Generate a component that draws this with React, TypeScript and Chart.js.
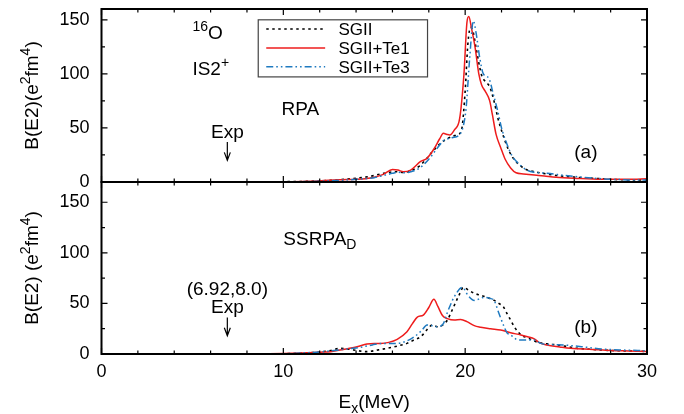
import React, { useEffect, useRef } from "react";
import { Chart, registerables } from "chart.js";
Chart.register(...registerables);

// ---------- data ----------
const seriesNames = ["SGII", "SGII+Te1", "SGII+Te3"];
const xMajorTicks = [0, 10, 20, 30];
const yMajorTicks = [0, 50, 100, 150];
const xMinorStep = 2;
const yMinorStep = 25;

// (a) RPA
const rpaSgiiX = [0, 10, 12, 13, 14, 14.5, 15, 15.5, 16.2, 16.6, 17, 17.5, 17.9, 18.25, 18.6, 18.9, 19.27, 19.6, 19.8, 20.0, 20.15, 20.3, 20.45, 20.6, 20.9, 21.1, 21.35, 21.6, 21.8, 22.05, 22.35, 22.6, 22.9, 23.3, 23.8, 24.3, 25, 26, 27, 28, 29, 30];
const rpaSgiiY = [0, 0.3, 1, 2, 3.5, 4.5, 6, 8, 9.5, 8.8, 10.5, 15, 22, 29, 35, 39, 42, 44, 48, 84, 128, 143, 138, 124, 99, 93, 88, 74, 59, 45, 31, 23, 17, 12, 9.5, 8, 6, 4.5, 3.5, 2.5, 2, 2];
const rpaTe1X = [0, 10, 12, 13, 14, 14.5, 15, 15.5, 16, 16.3, 16.6, 17, 17.55, 17.9, 18.3, 18.6, 18.8, 19.0, 19.15, 19.4, 19.7, 19.93, 20.1, 20.2, 20.35, 20.55, 20.75, 20.9, 21.1, 21.35, 21.5, 21.7, 21.95, 22.2, 22.5, 22.8, 23.2, 23.8, 24.35, 25, 26, 27.5, 29, 30];
const rpaTe1Y = [0, 0.3, 1, 2, 2.5, 3, 4.3, 7, 11.5, 11, 9.5, 11, 19, 22, 31, 40, 45, 44, 43.5, 48, 59, 99, 148, 153, 142, 124, 100, 90, 84, 75, 62, 44, 32, 21, 13, 8.5, 7.5, 6.5, 5.6, 4.5, 3.5, 2.5, 2.5, 3];
const rpaTe3X = [0, 10, 12, 13, 14, 15, 15.5, 16, 16.3, 16.7, 17, 17.5, 18, 18.45, 18.8, 19.27, 19.7, 19.9, 20.05, 20.25, 20.45, 20.6, 20.8, 21.0, 21.3, 21.55, 21.8, 22.0, 22.3, 22.55, 23.0, 23.4, 23.8, 24.5, 25.5, 26.5, 27.5, 28.5, 29.3, 30];
const rpaTe3Y = [0, 0.2, 0.7, 1.5, 2.5, 4, 6, 8, 9, 8.5, 9.5, 13, 21, 31, 38, 41, 44, 52, 68, 115, 149, 138, 115, 100, 96, 81, 65, 50, 35, 25, 16, 11, 9, 8, 6, 4.3, 3, 2.2, 1.8, 1.8];

// (b) SSRPA_D
const ssSgiiX = [0, 10, 11, 12, 12.6, 13.14, 13.5, 13.86, 14.2, 14.6, 15.2, 15.7, 16.3, 16.8, 17.2, 17.55, 17.9, 18.19, 18.47, 18.8, 19.02, 19.3, 19.66, 19.9, 20.2, 20.5, 20.85, 21.2, 21.6, 21.85, 22.1, 22.3, 22.5, 22.7, 22.9, 23.1, 23.43, 24, 24.5, 25.1, 26.2, 27, 28, 29, 30];
const ssSgiiY = [0, 0.3, 0.8, 2, 3.5, 5.6, 5, 4, 3, 2.3, 4, 5.6, 8, 10.5, 14, 17, 24, 28.6, 27, 29, 33.5, 44, 58, 65.8, 63, 60, 58, 56, 53, 50, 46.7, 40, 33.5, 27, 22, 18.5, 16, 11.5, 10, 8.9, 5.6, 4.5, 3.5, 3, 2.5];
const ssTe1X = [0, 8, 10, 11, 12, 12.6, 13.3, 14.06, 14.6, 15.0, 15.35, 15.8, 16.26, 16.8, 17.1, 17.37, 17.7, 18.0, 18.28, 18.5, 18.75, 19.02, 19.4, 19.75, 20.1, 20.5, 20.85, 21.4, 21.95, 22.5, 23.06, 23.43, 23.8, 24.1, 24.5, 25.2, 25.8, 27, 28, 29, 30];
const ssTe1Y = [0, 0.2, 0.5, 1, 1.8, 2.3, 4.5, 7.2, 9.9, 10.5, 10.5, 11.5, 14.5, 22, 30, 36.5, 38.5, 46, 54, 47, 38, 35, 33.5, 34, 32, 28, 26.5, 25, 23.7, 21, 18.8, 17, 15, 11, 8.9, 7, 5.6, 4.5, 3.5, 3, 2.5];
const ssTe3X = [0, 10, 11, 12, 12.8, 13.5, 14.0, 14.4, 14.9, 15.35, 15.8, 16.26, 16.8, 17.2, 17.6, 17.9, 18.2, 18.47, 18.8, 19.0, 19.2, 19.4, 19.85, 20.15, 20.5, 21.04, 21.35, 21.6, 21.86, 22.14, 22.3, 22.5, 22.9, 23.5, 23.8, 24.16, 24.5, 25.4, 26.4, 27.5, 28.5, 29.5, 30];
const ssTe3Y = [0, 0.3, 1, 2, 3.5, 5, 6, 7.2, 9, 10.5, 10.5, 10.5, 13, 17, 23, 28.6, 28, 27, 30, 40, 49, 56.6, 65.8, 58, 53, 56, 55, 52.6, 40, 27, 21, 18.8, 14, 13.8, 13.8, 10.5, 9.5, 8.9, 7.2, 5, 4, 3.5, 3];

// experimental point
const expEnergy = 6.92;
const expLabel = "(6.92,8.0)";

// ---------- styles ----------
const FONT = '"Liberation Sans", Arial, Helvetica, sans-serif';
const W = 684;
const H = 414;
const seriesStyles = [
  { color: "#000000", dash: [2.5, 3.5], width: 1.6 },
  { color: "#ee1c1c", dash: [] as number[], width: 1.5 },
  { color: "#1f7ac0", dash: [7, 3, 1.6, 3, 1.6, 3], width: 1.5 },
];

type Seg = { t: string; s?: "sup" | "sub" };

function drawRich(ctx: CanvasRenderingContext2D, segs: Seg[], x: number, y: number, size: number, align: "left" | "center") {
  const small = Math.round(size * 0.72);
  const widths = segs.map((sg) => {
    ctx.font = `${sg.s ? small : size}px ${FONT}`;
    return ctx.measureText(sg.t).width;
  });
  const total = widths.reduce((a, b) => a + b, 0);
  let cx = align === "center" ? x - total / 2 : x;
  ctx.textAlign = "left";
  ctx.textBaseline = "alphabetic";
  segs.forEach((sg, i) => {
    ctx.font = `${sg.s ? small : size}px ${FONT}`;
    const dy = sg.s === "sup" ? -size * 0.42 : sg.s === "sub" ? size * 0.25 : 0;
    ctx.fillText(sg.t, cx, y + dy);
    cx += widths[i];
  });
}

type Panel = {
  key: string;
  top: number;
  bottom: number;
  yMax: number;
  showX: boolean;
  xs: number[][];
  ys: number[][];
  texts: { segs: Seg[]; x: number; y: number; align: "left" | "center"; size: number }[];
  arrow: { x: number; y1: number; y2: number };
  yTitle: Seg[];
  legend: boolean;
};

const panels: Panel[] = [
  {
    key: "a",
    top: 9,
    bottom: 182,
    yMax: 160,
    showX: false,
    xs: [rpaSgiiX, rpaTe1X, rpaTe3X],
    ys: [rpaSgiiY, rpaTe1Y, rpaTe3Y],
    texts: [
      { segs: [{ t: "16", s: "sup" }, { t: "O" }], x: 5.0, y: 132, align: "left", size: 19 },
      { segs: [{ t: "IS2" }, { t: "+", s: "sup" }], x: 5.0, y: 99, align: "left", size: 19 },
      { segs: [{ t: "RPA" }], x: 9.9, y: 62, align: "left", size: 19 },
      { segs: [{ t: "Exp" }], x: expEnergy, y: 41, align: "center", size: 19 },
      { segs: [{ t: "(a)" }], x: 26.0, y: 22, align: "left", size: 19 },
    ],
    arrow: { x: expEnergy, y1: 37, y2: 20 },
    yTitle: [{ t: "B(E2)(e" }, { t: "2", s: "sup" }, { t: "fm" }, { t: "4", s: "sup" }, { t: ")" }],
    legend: true,
  },
  {
    key: "b",
    top: 182,
    bottom: 354,
    yMax: 170,
    showX: true,
    xs: [ssSgiiX, ssTe1X, ssTe3X],
    ys: [ssSgiiY, ssTe1Y, ssTe3Y],
    texts: [
      { segs: [{ t: "SSRPA" }, { t: "D", s: "sub" }], x: 10.0, y: 108, align: "left", size: 19 },
      { segs: [{ t: expLabel }], x: expEnergy, y: 58, align: "center", size: 19 },
      { segs: [{ t: "Exp" }], x: expEnergy, y: 41, align: "center", size: 19 },
      { segs: [{ t: "(b)" }], x: 26.0, y: 21, align: "left", size: 19 },
    ],
    arrow: { x: expEnergy, y1: 36, y2: 18 },
    yTitle: [{ t: "B(E2) (e" }, { t: "2", s: "sup" }, { t: "fm" }, { t: "4", s: "sup" }, { t: ")" }],
    legend: false,
  },
];

function makeDecor(panel: Panel) {
  return {
    id: "decor_" + panel.key,
    afterDatasetsDraw(chart: any) {
      const ctx: CanvasRenderingContext2D = chart.ctx;
      const { left, right, top, bottom } = chart.chartArea;
      const xs = chart.scales.x;
      const ys = chart.scales.y;
      ctx.save();
      ctx.fillStyle = "#000";
      ctx.strokeStyle = "#000";
      // ticks
      ctx.lineWidth = 1.2;
      for (let v = 0; v <= 30 + 1e-9; v += xMinorStep) {
        const px = xs.getPixelForValue(v);
        const len = xMajorTicks.includes(v) ? 6 : 3.5;
        ctx.beginPath();
        ctx.moveTo(px, bottom);
        ctx.lineTo(px, bottom - len);
        ctx.moveTo(px, top);
        ctx.lineTo(px, top + len);
        ctx.stroke();
      }
      for (let v = 0; v <= panel.yMax + 1e-9; v += yMinorStep) {
        const py = ys.getPixelForValue(v);
        const len = yMajorTicks.includes(v) ? 6 : 3.5;
        ctx.beginPath();
        ctx.moveTo(left, py);
        ctx.lineTo(left + len, py);
        ctx.moveTo(right, py);
        ctx.lineTo(right - len, py);
        ctx.stroke();
      }
      // frame
      ctx.lineWidth = 2;
      ctx.strokeRect(left, top, right - left, bottom - top);

      // texts
      panel.texts.forEach((tx) => {
        drawRich(ctx, tx.segs, xs.getPixelForValue(tx.x), ys.getPixelForValue(tx.y), tx.size, tx.align);
      });
      // arrow
      const ax = xs.getPixelForValue(panel.arrow.x);
      const ay1 = ys.getPixelForValue(panel.arrow.y1);
      const ay2 = ys.getPixelForValue(panel.arrow.y2);
      ctx.lineWidth = 1.2;
      ctx.beginPath();
      ctx.moveTo(ax, ay1);
      ctx.lineTo(ax, ay2);
      ctx.moveTo(ax - 3, ay2 - 8);
      ctx.lineTo(ax, ay2);
      ctx.lineTo(ax + 3, ay2 - 8);
      ctx.stroke();

      // y title
      ctx.save();
      ctx.translate(left - 64, (top + bottom) / 2);
      ctx.rotate(-Math.PI / 2);
      drawRich(ctx, panel.yTitle, 0, 0, 19, "center");
      ctx.restore();

      // x title
      if (panel.showX) {
        drawRich(ctx, [{ t: "E" }, { t: "x", s: "sub" }, { t: "(MeV)" }], (left + right) / 2, 408, 19, "center");
      }

      // legend
      if (panel.legend) {
        const bx1 = xs.getPixelForValue(8.62);
        const bx2 = xs.getPixelForValue(17.93);
        const by1 = ys.getPixelForValue(150);
        const by2 = ys.getPixelForValue(97.2);
        ctx.fillStyle = "#fff";
        ctx.fillRect(bx1, by1, bx2 - bx1, by2 - by1);
        ctx.strokeStyle = "#444";
        ctx.lineWidth = 1.2;
        ctx.strokeRect(bx1, by1, bx2 - bx1, by2 - by1);
        const rows = [141.5, 124, 106.5];
        const lx1 = xs.getPixelForValue(9.06);
        const lx2 = xs.getPixelForValue(12.3);
        const tx = xs.getPixelForValue(13.03);
        rows.forEach((r, i) => {
          const py = ys.getPixelForValue(r);
          const st = seriesStyles[i];
          ctx.strokeStyle = st.color;
          ctx.lineWidth = st.width;
          ctx.setLineDash(st.dash);
          ctx.beginPath();
          ctx.moveTo(lx1, py);
          ctx.lineTo(lx2, py);
          ctx.stroke();
          ctx.setLineDash([]);
          ctx.fillStyle = "#000";
          drawRich(ctx, [{ t: seriesNames[i] }], tx, py + 6, 17, "left");
        });
      }
      ctx.restore();
    },
  };
}

function makeConfig(panel: Panel): any {
  const tickFont = { family: FONT, size: 18 };
  return {
    type: "line",
    data: {
      datasets: panel.xs.map((xArr, i) => ({
        label: seriesNames[i],
        data: xArr.map((x, j) => ({ x, y: panel.ys[i][j] })),
        borderColor: seriesStyles[i].color,
        borderDash: seriesStyles[i].dash,
        borderWidth: seriesStyles[i].width,
        pointRadius: 0,
        fill: false,
        cubicInterpolationMode: "monotone",
        order: i === 2 ? 0 : i === 1 ? 1 : 2,
      })),
    },
    options: {
      responsive: false,
      maintainAspectRatio: false,
      animation: false,
      devicePixelRatio: 1,
      events: [],
      layout: { padding: { left: 0, right: W - 647, top: panel.top, bottom: panel.showX ? 0 : H - panel.bottom } },
      plugins: { legend: { display: false }, tooltip: { enabled: false }, title: { display: false } },
      scales: {
        x: {
          type: "linear",
          min: 0,
          max: 30,
          display: panel.showX,
          grid: { display: false, drawTicks: false },
          border: { display: false },
          ticks: { font: tickFont, color: "#000", padding: 7, maxRotation: 0, autoSkip: false },
          afterBuildTicks: (s: any) => {
            s.ticks = xMajorTicks.map((v) => ({ value: v }));
          },
          afterFit: (s: any) => {
            s.height = panel.showX ? H - panel.bottom : 0;
            s.paddingLeft = 0;
            s.paddingRight = 0;
          },
        },
        y: {
          type: "linear",
          min: 0,
          max: panel.yMax,
          grid: { display: false, drawTicks: false },
          border: { display: false },
          ticks: { font: tickFont, color: "#000", padding: 12, autoSkip: false },
          afterBuildTicks: (s: any) => {
            s.ticks = yMajorTicks.map((v) => ({ value: v }));
          },
          afterFit: (s: any) => {
            s.width = 101.5;
            s.paddingTop = 0;
            s.paddingBottom = 0;
          },
        },
      },
    },
    plugins: [makeDecor(panel)],
  };
}

export default function App() {
  const refA = useRef<HTMLCanvasElement>(null);
  const refB = useRef<HTMLCanvasElement>(null);
  useEffect(() => {
    const charts = [refA, refB].map((r, i) => new Chart(r.current as HTMLCanvasElement, makeConfig(panels[i])));
    return () => charts.forEach((c) => c.destroy());
  }, []);
  const cs: React.CSSProperties = { position: "absolute", left: 0, top: 0, width: W, height: H };
  return (
    <div style={{ position: "fixed", left: 0, top: 0, width: W, height: H, background: "#fff" }}>
      <canvas ref={refA} width={W} height={H} style={cs} />
      <canvas ref={refB} width={W} height={H} style={cs} />
    </div>
  );
}
